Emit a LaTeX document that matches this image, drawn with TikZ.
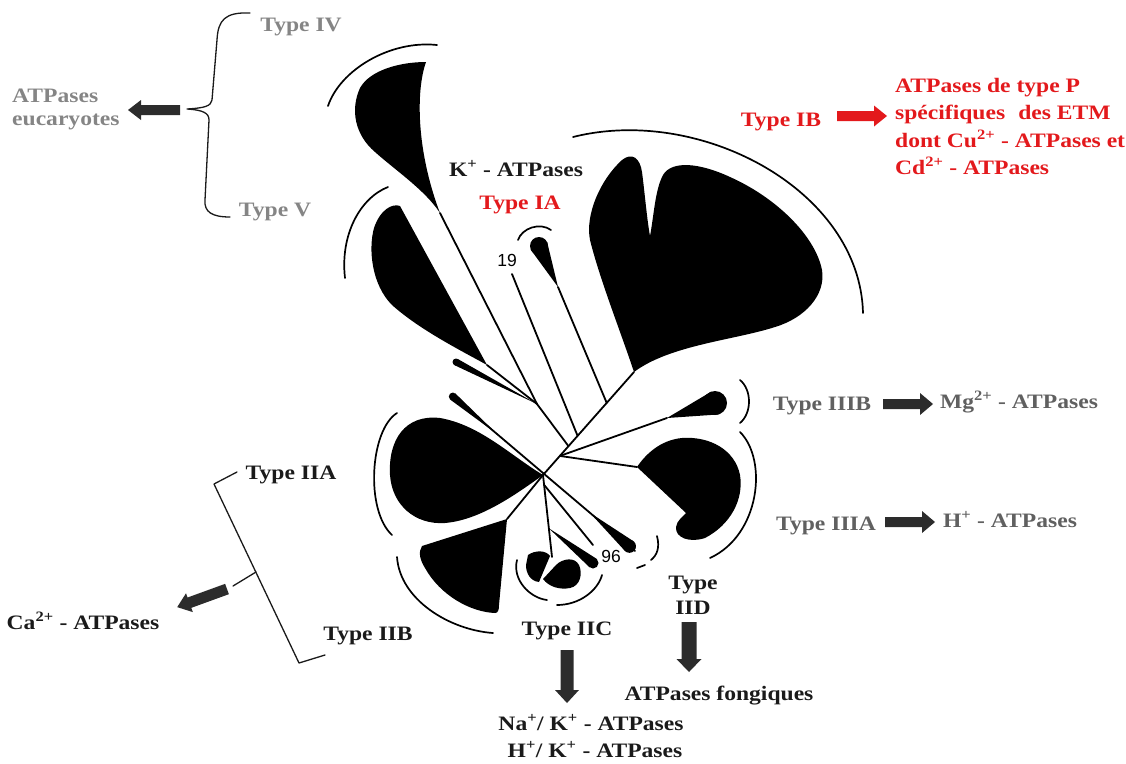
\documentclass[tikz,border=0pt]{standalone}
\usepackage{fontspec}
\setmainfont[FakeStretch=1.15]{Liberation Serif}
\newfontfamily\numfont{Liberation Sans}
\usetikzlibrary{calc}
\definecolor{tred}{HTML}{E3191C}
\definecolor{tgrayA}{HTML}{858585}
\definecolor{tgrayB}{HTML}{606060}
\definecolor{tblack}{HTML}{1A1A1A}
\definecolor{arrgray}{HTML}{2C2C2C}
\newcommand\tdrop[3]{\fill (#1) -- ($(#2)!#3!90:(#1)$) -- ($(#2)!#3!-90:(#1)$) -- cycle; \fill (#2) circle (#3);}
\newcommand\blockarr[7]{\fill[#1, shift={(#2,#3)}, rotate=#4] (0,-#6) -- ({#5-13},-#6) -- ({#5-13},-#7) -- (#5,0) -- ({#5-13},#7) -- ({#5-13},#6) -- (0,#6) -- cycle;}
\begin{document}
\begin{tikzpicture}[x=1pt,y=-1pt,line cap=round,line join=round,
  lbl/.style={font=\fontsize{20.5}{27}\selectfont\bfseries, inner sep=0pt, anchor=base},
  lblw/.style={lbl, anchor=base west},
  num/.style={font=\fontsize{17.5}{20}\selectfont\numfont, inner sep=0pt, anchor=center, text=black},
  tl/.style={line width=1.8pt, black},
  arcst/.style={line width=1.7pt, black},
  brace/.style={line width=1.3pt, tblack}]
\useasboundingbox (0,0) rectangle (1126,763);

% ---------- tree coordinates ----------
\coordinate (T) at (634,372);
\coordinate (C) at (543,475);
\coordinate (PIA) at ($(T)!0.30!(C)$);
\coordinate (P19) at ($(T)!0.62!(C)$);
\coordinate (N2) at ($(T)!0.72!(C)$);
\coordinate (N3) at ($(T)!0.815!(C)$);
\coordinate (N1) at (537,404);
\coordinate (IAt) at (558,287);
\coordinate (IAc) at (539,246);
\coordinate (L19) at (512,274);
\coordinate (IVt) at (440,213);
\coordinate (Vt) at (487,365);
\coordinate (S1c) at (456,362);
\coordinate (S2a) at (451,395);
\coordinate (S2b) at (635,551);
\coordinate (IIIBt) at (667,418);
\coordinate (IIIBc) at (715,403);
\coordinate (IIIAt) at (637,467);
\coordinate (IIBt) at (507,519);
\coordinate (IICt) at (552,557);
\coordinate (L96) at (593,545);
\coordinate (S96c) at (593,563);

% ---------- branches ----------
\draw[tl] (T) -- (C);
\draw[tl] (IAt) -- (PIA);
\draw[tl] (L19) -- (P19);
\draw[tl] (IVt) -- (N1);
\draw[tl] (Vt) -- (N1);
\draw[tl] (N1) -- (N2);
\draw[tl] (S2a) -- (S2b);
\draw[tl] (N3) -- (IIIBt);
\draw[tl] (N3) -- (IIIAt);
\draw[tl] (C) -- (IIBt);
\draw[tl] (C) -- (IICt);
\draw[tl] ($(C)!0.12!(IICt)$) -- (L96);

% ---------- clades ----------
% IB
\fill (T) .. controls (620,330) and (600,280) .. (590,240) .. controls (585,215) and (600,180) .. (622,160)
  .. controls (632,152) and (640,158) .. (642,172) .. controls (645,195) and (647,220) .. (650,236)
  .. controls (654,215) and (655,190) .. (663,175) .. controls (672,160) and (700,163) .. (730,177)
  .. controls (775,197) and (815,235) .. (822,270) .. controls (826,295) and (805,318) .. (775,327)
  .. controls (735,340) and (670,345) .. (T) -- cycle;
% IA
\tdrop{IAt}{IAc}{9pt}
% IV
\fill (IVt) .. controls (425,190) and (395,170) .. (375,152) .. controls (355,135) and (350,110) .. (360,88)
  .. controls (370,70) and (400,62) .. (426,62) .. controls (416,90) and (416,150) .. (IVt) -- cycle;
% V
\fill (Vt) -- (400,206) .. controls (392,203) and (380,210) .. (374,228) .. controls (368,250) and (372,285) .. (392,305)
  .. controls (420,330) and (460,350) .. (Vt) -- cycle;
% thin spikes
\tdrop{N1}{S1c}{3.5pt}
\tdrop{$(S2a)!0.25!(S2b)$}{$(S2a)!0.01!(S2b)$}{4pt}
\tdrop{$(S2a)!0.755!(S2b)$}{$(S2a)!0.97!(S2b)$}{6.5pt}
\tdrop{$(C)!0.65!(IICt)$}{S96c}{5.5pt}
% IIIB
\tdrop{IIIBt}{IIIBc}{12pt}
% IIIA
\fill (IIIAt) .. controls (645,455) and (660,440) .. (682,438) .. controls (710,436) and (735,450) .. (740,475)
  .. controls (744,500) and (730,525) .. (705,538) .. controls (690,543) and (675,538) .. (676,527)
  .. controls (677,520) and (683,517) .. (686,513) -- cycle;
% IIA
\fill (C) .. controls (510,455) and (480,425) .. (440,418) .. controls (405,414) and (388,440) .. (390,475)
  .. controls (392,505) and (415,525) .. (445,523) .. controls (480,520) and (515,495) .. (C) -- cycle;
% IIB
\fill (IIBt) -- (422,546) .. controls (418,552) and (420,560) .. (425,568) .. controls (440,595) and (470,612) .. (495,613)
  .. controls (498,613) and (499,610) .. (499,605) -- cycle;
% IIC
\fill (528,555) .. controls (535,550) and (546,550) .. (550,556) -- (539,582) .. controls (530,581) and (526,573) .. (526,565) -- cycle;
\fill (556,565) .. controls (563,558) and (575,557) .. (579,565) .. controls (583,574) and (580,586) .. (570,588)
  .. controls (560,590) and (549,587) .. (543,579) -- cycle;

% ---------- clade arcs ----------
\draw[arcst] (437,45) .. controls (390,40) and (340,70) .. (328,106);
\draw[arcst] (388,187) .. controls (360,198) and (340,235) .. (345,278);
\draw[arcst] (518,240) .. controls (522,228) and (540,222) .. (551,230);
\draw[arcst] (573,137) .. controls (700,105) and (860,190) .. (863,313);
\draw[arcst] (740,380) .. controls (752,390) and (752,413) .. (740,423);
\draw[arcst] (740,432) .. controls (768,460) and (760,535) .. (710,558);
\draw[arcst] (397,413) .. controls (370,430) and (365,510) .. (392,535);
\draw[arcst] (397,557) .. controls (400,600) and (450,630) .. (493,633);
\draw[arcst] (517,560) .. controls (512,580) and (530,598) .. (547,600);
\draw[arcst] (557,605) .. controls (580,605) and (598,590) .. (602,575);
\draw[arcst] (657,536) .. controls (660,548) and (657,555) .. (651,560);
\draw[arcst] (645,565) -- (637,568);

% ---------- numbers ----------
\node[num] (n19) at (507,260) {19};
\node[num] (n96) at (611,556) {96};

% ---------- labels ----------
\node[lbl, text=tgrayA] (tIV) at (301,31) {Type IV};
\node[lbl, text=tgrayA] (tV) at (275,216) {Type V};
\node[lblw, text=tgrayA] (euk1) at (12,102) {ATPases};
\node[lblw, text=tgrayA] (euk2) at (12,125) {eucaryotes};
\node[lbl, text=tblack] (kat) at (516,176) {K\textsuperscript{+} - ATPases};
\node[lbl, text=tred] (tIA) at (520,209) {Type IA};
\node[lbl, text=tred] (tIB) at (781,126) {Type IB};
\node[lblw, text=tred] (r1) at (895,92) {ATPases de type P};
\node[lblw, text=tred] (r2) at (895,119.5) {spécifiques\hspace{0.35em} des ETM};
\node[lblw, text=tred] (r3) at (895,147) {dont Cu\textsuperscript{2+} - ATPases et};
\node[lblw, text=tred] (r4) at (895,174.5) {Cd\textsuperscript{2+} - ATPases};
\node[lbl, text=tgrayB] (tIIIB) at (822,410) {Type IIIB};
\node[lbl, text=tgrayB] (mg) at (1019,408) {Mg\textsuperscript{2+} - ATPases};
\node[lbl, text=tgrayB] (tIIIA) at (826,530) {Type IIIA};
\node[lbl, text=tgrayB] (hat) at (1010,527) {H\textsuperscript{+} - ATPases};
\node[lbl, text=tblack] (tIIA) at (291,479) {Type IIA};
\node[lbl, text=tblack] (tIIB) at (368,640) {Type IIB};
\node[lbl, text=tblack] (ca) at (83,629) {Ca\textsuperscript{2+} - ATPases};
\node[lbl, text=tblack] (tIIC) at (567,635) {Type IIC};
\node[lbl, text=tblack] (tIID1) at (693,589) {Type};
\node[lbl, text=tblack] (tIID2) at (693,614) {IID};
\node[lbl, text=tblack] (fong) at (719,700) {ATPases fongiques};
\node[lbl, text=tblack] (nak) at (591,730) {Na\textsuperscript{+}/ K\textsuperscript{+} - ATPases};
\node[lbl, text=tblack] (hk) at (595,757) {H\textsuperscript{+}/ K\textsuperscript{+} - ATPases};

% ---------- braces ----------
\draw[brace] (250,13) .. controls (225,12) and (218,20) .. (217,40) -- (212,100) .. controls (211,106) and (205,108) .. (187,109)
  .. controls (203,110) and (209,113) .. (209,120) -- (205,200) .. controls (204,212) and (212,217) .. (230,217);
\draw[brace] (237,472) -- (214,484) -- (299,663) -- (325,655);
\draw[brace] (256,572) -- (233,586);

% ---------- block arrows ----------
\blockarr{arrgray}{180}{110}{180}{52}{5}{10}
\blockarr{tred}{837}{116}{0}{50}{5}{10.5}
\blockarr{arrgray}{883}{404}{0}{50}{5}{11}
\blockarr{arrgray}{885}{522}{0}{50}{5}{11}
\blockarr{arrgray}{567}{650}{-90}{53}{6.5}{12}
\blockarr{arrgray}{689}{622}{-90}{50}{7.5}{12.5}
\blockarr{arrgray}{227}{589}{200}{53}{5.5}{10}
\end{tikzpicture}
\end{document}
